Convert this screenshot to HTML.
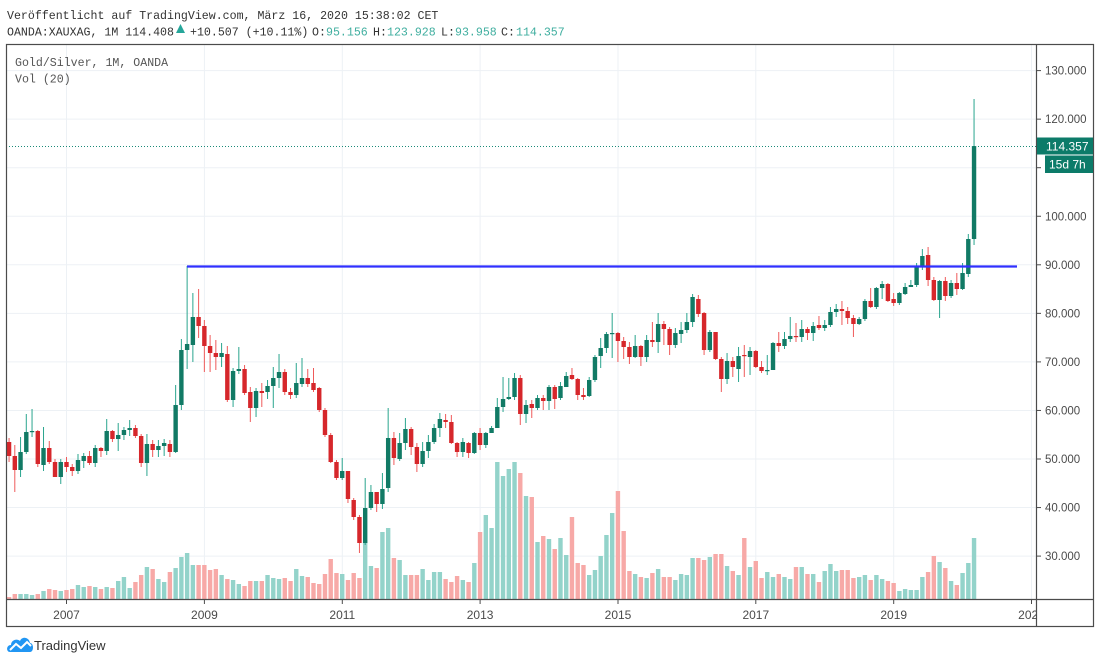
<!DOCTYPE html>
<html><head><meta charset="utf-8"><style>
html,body{margin:0;padding:0;background:#fff;}
svg{display:block;}
.mono{font-family:"Liberation Mono","DejaVu Sans Mono",monospace;font-size:11.6px;}
.ax{font-family:"Liberation Sans",sans-serif;font-size:11.5px;fill:#4a4a4a;}
</style></head><body>
<svg id="c" width="1100" height="664" viewBox="0 0 1100 664" xmlns="http://www.w3.org/2000/svg">
<rect x="0" y="0" width="1100" height="664" fill="#fff"/>
<defs><clipPath id="plot"><rect x="6" y="44" width="1030" height="555"/></clipPath>
<clipPath id="taxis"><rect x="6" y="599" width="1030" height="28"/></clipPath></defs>

<!-- header -->
<text x="7" y="19" class="mono" fill="#333">Veröffentlicht auf TradingView.com, März 16, 2020 15:38:02 CET</text>
<text x="7" y="35.7" class="mono" fill="#333">OANDA:XAUXAG, 1M 114.408</text>
<polygon points="176,33 185,33 180.5,24" fill="#26a69a"/>
<text x="190" y="35.7" class="mono" fill="#333">+10.507 (+10.11%)</text>
<text x="312" y="35.7" class="mono" fill="#333">O:</text>
<text x="326" y="35.7" class="mono" fill="#3fae9f">95.156</text>
<text x="373" y="35.7" class="mono" fill="#333">H:</text>
<text x="387" y="35.7" class="mono" fill="#3fae9f">123.928</text>
<text x="441" y="35.7" class="mono" fill="#333">L:</text>
<text x="455" y="35.7" class="mono" fill="#3fae9f">93.958</text>
<text x="501" y="35.7" class="mono" fill="#333">C:</text>
<text x="516" y="35.7" class="mono" fill="#3fae9f">114.357</text>

<!-- grid -->
<g stroke="#edf1f5" stroke-width="1">
<line x1="6" x2="1036" y1="70.6" y2="70.6"/>
<line x1="6" x2="1036" y1="119.15" y2="119.15"/>
<line x1="6" x2="1036" y1="167.7" y2="167.7"/>
<line x1="6" x2="1036" y1="216.25" y2="216.25"/>
<line x1="6" x2="1036" y1="264.8" y2="264.8"/>
<line x1="6" x2="1036" y1="313.35" y2="313.35"/>
<line x1="6" x2="1036" y1="361.9" y2="361.9"/>
<line x1="6" x2="1036" y1="410.45" y2="410.45"/>
<line x1="6" x2="1036" y1="459" y2="459"/>
<line x1="6" x2="1036" y1="507.55" y2="507.55"/>
<line x1="6" x2="1036" y1="556.1" y2="556.1"/>
<line x1="66.5" x2="66.5" y1="45" y2="599"/>
<line x1="204.4" x2="204.4" y1="45" y2="599"/>
<line x1="342.3" x2="342.3" y1="45" y2="599"/>
<line x1="480.1" x2="480.1" y1="45" y2="599"/>
<line x1="618" x2="618" y1="45" y2="599"/>
<line x1="755.8" x2="755.8" y1="45" y2="599"/>
<line x1="893.7" x2="893.7" y1="45" y2="599"/>
<line x1="1031.5" x2="1031.5" y1="45" y2="599"/>
</g>

<!-- legend -->
<text x="15" y="66" class="mono" fill="#555">Gold/Silver, 1M, OANDA</text>
<text x="15" y="82.7" class="mono" fill="#555">Vol (20)</text>

<g clip-path="url(#plot)">
<g id="vol"></g>
<g id="cand"></g>
<line x1="187" x2="1017" y1="266.5" y2="266.5" stroke="#3030ff" stroke-width="2.3"/>
<line x1="6" x2="1036" y1="146.5" y2="146.5" stroke="#1a8a78" stroke-width="1" stroke-dasharray="1,2"/>
</g>

<!-- frame -->
<g stroke="#4b4b4b" stroke-width="1.2" fill="none">
<rect x="6.5" y="44.5" width="1087" height="582"/>
<line x1="1036.5" x2="1036.5" y1="44.5" y2="626.5"/>
<line x1="6" x2="1093.5" y1="599.5" y2="599.5"/>
</g>

<!-- price ticks -->
<g stroke="#4b4b4b" stroke-width="1">
<line x1="1036" x2="1041" y1="70.6" y2="70.6"/>
<line x1="1036" x2="1041" y1="119.15" y2="119.15"/>
<line x1="1036" x2="1041" y1="167.7" y2="167.7"/>
<line x1="1036" x2="1041" y1="216.25" y2="216.25"/>
<line x1="1036" x2="1041" y1="264.8" y2="264.8"/>
<line x1="1036" x2="1041" y1="313.35" y2="313.35"/>
<line x1="1036" x2="1041" y1="361.9" y2="361.9"/>
<line x1="1036" x2="1041" y1="410.45" y2="410.45"/>
<line x1="1036" x2="1041" y1="459" y2="459"/>
<line x1="1036" x2="1041" y1="507.55" y2="507.55"/>
<line x1="1036" x2="1041" y1="556.1" y2="556.1"/>
<line x1="66.5" x2="66.5" y1="599" y2="604"/>
<line x1="204.4" x2="204.4" y1="599" y2="604"/>
<line x1="342.3" x2="342.3" y1="599" y2="604"/>
<line x1="480.1" x2="480.1" y1="599" y2="604"/>
<line x1="618" x2="618" y1="599" y2="604"/>
<line x1="755.8" x2="755.8" y1="599" y2="604"/>
<line x1="893.7" x2="893.7" y1="599" y2="604"/>
<line x1="1031.5" x2="1031.5" y1="599" y2="604"/>
</g>

<!-- price labels -->
<g class="ax">
<text x="1045" y="74.6">130.000</text>
<text x="1045" y="123.15">120.000</text>
<text x="1045" y="220.25">100.000</text>
<text x="1045" y="268.8">90.000</text>
<text x="1045" y="317.35">80.000</text>
<text x="1045" y="365.9">70.000</text>
<text x="1045" y="414.45">60.000</text>
<text x="1045" y="463">50.000</text>
<text x="1045" y="511.55">40.000</text>
<text x="1045" y="560.1">30.000</text>
</g>

<!-- price boxes -->
<rect x="1037" y="137.5" width="56" height="17" fill="#0c7b69"/>
<text x="1046" y="150.5" font-family="Liberation Sans,sans-serif" font-size="12" fill="#fff">114.357</text>
<rect x="1045" y="155.5" width="48" height="17.5" fill="#0c7b69"/>
<text x="1049" y="168.5" font-family="Liberation Sans,sans-serif" font-size="12" fill="#fff">15d 7h</text>

<!-- time labels -->
<g class="ax" text-anchor="middle" clip-path="url(#taxis)" style="font-size:12px">
<text x="66.5" y="619">2007</text>
<text x="204.4" y="619">2009</text>
<text x="342.3" y="619">2011</text>
<text x="480.1" y="619">2013</text>
<text x="618" y="619">2015</text>
<text x="755.8" y="619">2017</text>
<text x="893.7" y="619">2019</text>
<text x="1031.5" y="619">2021</text>
</g>

<!-- logo -->
<g transform="translate(7,635)">
<path d="M3 17 C-1 17 -1 10 4 10 C4 5 10 3 13 6 C15 1 22 2 23 8 C27 8 27 17 23 17 Z" fill="#2196f3"/>
<polyline points="3,15 9,9 14,13 20,7 24,11" fill="none" stroke="#fff" stroke-width="2"/>
</g>
<text x="34" y="650" font-family="Liberation Sans,sans-serif" font-size="13" fill="#333">TradingView</text>
</svg>
<script>
const D=[
[442,456,438,462,597],[456,470,445,492,594],[470,452,437,477,594],[452,432,414,454,594],[432,431,409,437,595],
[431,464,430,467,594],[465,448,427,471,591],[448,462,441,464,589],[462,477,459,477,590],[477,462,459,484,591],
[462,467,457,472,590],[467,471,464,476,589],[471,460,454,474,585],[461,456,453,468,587],[456,463,451,465,586],
[463,448,445,467,587],[448,451,447,457,589],[451,431,419,455,587],[431,439,430,442,588],[439,435,423,451,581],
[435,430,427,440,577],[430,428,420,436,588],[428,436,425,438,582],[436,463,434,467,575],[463,444,434,476,567],
[444,450,440,457,569],[450,446,440,457,579],[446,443,439,456,582],[444,452,440,457,572],[452,405,385,453,568],
[405,350,339,410,557],[350,344,266,369,553],[345,317,293,362,565],[317,326,289,338,565],[326,346,320,372,565],
[346,353,335,372,570],[353,357,340,370,569],[357,353,343,367,575],[354,400,346,402,579],[400,371,368,407,580],
[371,369,347,374,584],[369,393,365,395,586],[392,408,387,422,581],[408,391,388,417,581],[391,393,383,407,581],
[392,386,380,399,575],[386,378,367,408,578],[378,372,354,388,579],[372,392,369,395,578],[392,395,388,399,581],
[395,383,363,398,569],[384,378,358,387,576],[378,384,369,387,577],[383,390,368,392,583],[388,410,387,412,584],
[410,435,408,437,574],[435,462,433,463,559],[462,478,460,480,573],[478,471,458,480,574],[471,499,471,503,580],
[500,517,498,520,573],[517,543,515,553,578],[543,508,478,545,540],[508,492,485,510,566],[492,504,492,512,568],
[504,489,473,509,532],[488,438,408,492,528],[438,458,432,465,558],[459,443,433,461,560],[443,429,418,450,575],
[429,447,427,455,575],[447,464,443,472,575],[464,451,442,467,569],[451,442,435,458,580],[442,428,424,444,572],
[428,419,413,437,572],[420,422,414,428,579],[422,443,415,444,582],[443,452,442,457,576],[452,442,438,457,580],
[443,453,442,458,582],[453,433,432,454,563],[433,445,428,450,532],[445,433,432,448,515],[433,428,426,433,528],
[428,407,398,428,462],[407,399,377,412,476],[399,397,378,400,469],[397,378,373,400,462],[378,414,375,425,473],
[414,405,400,423,496],[404,408,400,418,497],[408,398,395,410,542],[398,401,395,410,536],[401,387,385,410,539],
[387,399,385,409,549],[398,386,382,400,538],[387,376,372,387,555],[375,379,368,380,517],[379,395,378,400,563],
[395,397,388,400,565],[396,380,377,397,575],[380,357,355,382,570],[356,348,338,368,556],[348,334,332,353,535],
[334,333,313,358,513],[333,341,332,362,491],[341,347,337,359,531],[347,357,342,364,571],[357,346,335,358,574],
[346,357,345,366,577],[357,340,335,362,578],[340,342,322,347,573],[342,324,313,353,569],[324,329,321,345,577],
[329,345,327,355,577],[345,333,328,348,580],[334,330,322,343,574],[330,322,313,333,575],[322,297,294,327,558],
[299,314,295,317,558],[313,350,312,355,560],[350,332,330,352,557],[332,359,332,360,554],[359,379,357,392,554],
[379,361,353,384,566],[361,367,357,377,571],[369,356,347,382,575],[355,356,345,377,538],[357,351,347,375,567],
[351,367,350,368,561],[367,371,361,373,578],[371,370,355,375,572],[370,343,342,370,577],[343,346,332,352,574],
[346,339,332,349,577],[339,336,317,342,579],[336,337,323,342,567],[337,329,320,342,567],[329,333,327,340,574],
[333,326,322,341,574],[325,328,316,330,582],[328,325,320,331,571],[325,312,307,327,564],[312,309,304,317,571],
[309,311,301,325,570],[311,318,307,324,570],[318,324,315,337,578],[324,319,317,325,577],[319,301,299,321,575],
[301,307,288,308,580],[307,288,287,309,575],[288,284,281,299,579],[284,301,283,302,581],[299,303,293,306,583],
[303,293,292,305,591],[294,287,283,295,589],[287,285,280,287,590],[285,267,263,287,590],[267,256,249,270,577],
[255,280,247,286,572],[280,300,277,301,556],[300,281,280,318,562],[281,296,277,301,568],[296,283,280,298,581],
[283,289,273,295,585],[289,273,263,290,573],[274,239,234,277,563],[239,146,99,245,538]
];
let vol='',cand='';
D.forEach(function(d,i){
  var m=i-10, cx=66.5+m*5.744, o=d[0], c=d[1], h=d[2], l=d[3], v=d[4];
  var up=c<=o;
  vol+='<rect x="'+(cx-2.2).toFixed(2)+'" y="'+v+'" width="4.4" height="'+(599-v)+'" fill="'+(up?'#93d3ca':'#f7a9a7')+'"/>';
  cand+='<line x1="'+cx.toFixed(2)+'" x2="'+cx.toFixed(2)+'" y1="'+h+'" y2="'+l+'" stroke="'+(up?'#2aa58e':'#ef5a5a')+'" stroke-width="1"/>';
  var top=Math.min(o,c), ht=Math.max(1.2,Math.abs(o-c));
  cand+='<rect x="'+(cx-2.2).toFixed(2)+'" y="'+top+'" width="4.4" height="'+ht+'" fill="'+(up?'#117a65':'#d6272b')+'"/>';
});
document.getElementById('vol').innerHTML=vol;
document.getElementById('cand').innerHTML=cand;
</script>
</body></html>
